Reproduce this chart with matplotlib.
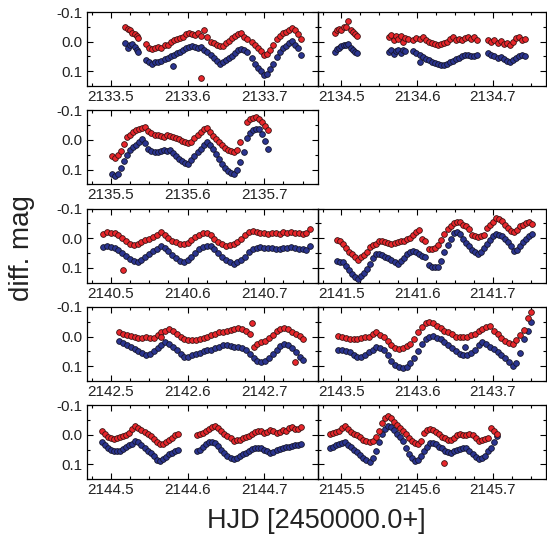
import numpy as np
import matplotlib.pyplot as plt
from matplotlib.ticker import FixedLocator, MultipleLocator, FuncFormatter

plt.rcParams['font.family'] = ['Liberation Sans', 'DejaVu Sans']
plt.rcParams['axes.unicode_minus'] = False

nan = np.nan

# nights (HJD - 2450000), times are the fraction of the day
days = [2133, 2134, 2135, 2140, 2141, 2142, 2143, 2144, 2145]

# --- 2133 ---
t_2133 = [.519, .522, .525, .528, .531, .534, .536,
          .546, .550, .554, .558, .562, .566, .570, .574, .578, .582, .586, .590, .594, .598,
          .602, .606, .610, .614, .618, .622, .626, .630, .634, .638, .642, .646, .650, .654,
          .658, .662, .666, .670, .674, .678,
          .684, .688, .692, .696, .700, .704, .708, .712, .716, .720, .724, .728, .732, .736,
          .740, .744, .748,
          .617, .581]
red_2133 = [-0.050, -0.042, -0.038, -0.030, -0.024, -0.020, -0.012,
            0.008, 0.020, 0.026, 0.022, 0.018, 0.020, 0.012, 0.010, 0.002, -0.004,
            -0.008, -0.012, -0.016, -0.026, -0.030, -0.024, -0.022, -0.028, -0.020, -0.040,
            -0.014, 0.000, 0.006, 0.012, 0.016, 0.014, 0.006, -0.002, -0.012, -0.020,
            -0.026, -0.028, -0.016, -0.010,
            0.000, 0.011, 0.022, 0.032, 0.044, 0.042, 0.030, 0.012, -0.008, -0.020, -0.028,
            -0.034, -0.040, -0.045, -0.040, -0.024, -0.008,
            0.123, nan]
blue_2133 = [0.006, 0.022, 0.012, 0.008, 0.018, 0.028, 0.036,
             0.062, 0.070, 0.074, 0.070, 0.068, 0.066, 0.060, 0.056, 0.050, 0.044,
             0.040, 0.034, 0.030, 0.022, 0.018, 0.016, 0.018, 0.020, 0.018, 0.028,
             0.036, 0.046, 0.056, 0.066, 0.074, 0.070, 0.062, 0.054, 0.048, 0.040,
             0.030, 0.025, 0.030, 0.036,
             0.057, 0.074, 0.090, 0.100, 0.112, 0.110, 0.092, 0.075, 0.052, 0.035, 0.022,
             0.016, 0.006, -0.002, 0.010, 0.022, 0.045,
             nan, 0.083]

# --- 2134 ---
t_2134 = [.491, .494, .497, .500, .503, .506, .509, .512, .515, .518, .521,
          .563, .566, .569, .572, .575, .578, .581, .584, .588,
          .595, .599, .603, .607, .611, .615, .619, .623, .627, .631, .635, .639, .643, .647,
          .651, .655, .659, .663, .667, .671, .675, .679,
          .694, .698, .702, .706, .710, .714, .718, .722, .726, .730, .734, .738, .742,
          .603]
red_2134 = [-0.030, -0.040, -0.044, -0.038, -0.048, -0.050, -0.068, -0.040, -0.034, -0.026, -0.020,
            -0.015, -0.022, -0.005, -0.018, -0.010, -0.020, 0.002, -0.012, -0.008,
            -0.006, -0.012, -0.008, -0.014, -0.004, 0.002, 0.006, 0.008, 0.010, 0.008,
            0.006, 0.000, -0.008, -0.016, -0.006, -0.010, -0.004, -0.012, -0.016, -0.008,
            -0.014, -0.006,
            -0.006, 0.002, -0.004, 0.006, -0.002, 0.008, 0.004, 0.010, 0.000, -0.012, -0.016,
            -0.004, -0.010,
            nan]
blue_2134 = [0.034, 0.026, 0.020, 0.015, 0.012, 0.010, 0.008, 0.020, 0.028, 0.034, 0.040,
             0.035, 0.030, 0.042, 0.032, 0.028, 0.038, 0.030, 0.032, nan,
             0.032, 0.040, 0.046, 0.052, 0.058, 0.062, 0.068, 0.072, 0.076, 0.078,
             0.080, 0.076, 0.070, 0.064, 0.058, 0.054, 0.050, 0.046, 0.044, 0.048,
             0.050, 0.046,
             0.040, 0.044, 0.048, 0.054, 0.052, 0.058, 0.064, 0.070, 0.062, 0.054, 0.050,
             0.046, 0.050,
             0.068]

# --- 2135 ---
t_2135 = [.501, .505, .509, .513, .517, .521, .525, .529, .533, .537,
          .541, .545, .549, .553, .557, .561, .565, .569, .573, .577,
          .581, .585, .589, .593, .597, .601, .605, .609, .613, .617,
          .621, .625, .629, .633, .637, .641, .645, .649, .653, .657,
          .661, .665, .669, .673, .677, .681, .685, .689, .693, .697,
          .701, .705]
red_2135 = [0.056, 0.062, 0.050, 0.036, 0.014, -0.010, -0.018, -0.026, -0.032, -0.036,
            -0.040, -0.044, -0.030, -0.022, -0.018, -0.016, -0.012, -0.010, -0.016, -0.014,
            -0.010, -0.008, -0.002, 0.004, 0.008, 0.010, 0.006, -0.006, -0.018, -0.028,
            -0.036, -0.040, -0.028, -0.014, -0.004, 0.008, 0.018, 0.028, 0.034, 0.038,
            0.040, 0.034, 0.006, nan, -0.060, -0.070, -0.074, -0.076, -0.072, -0.060,
            -0.046, -0.034]
blue_2135 = [0.116, 0.122, 0.114, 0.095, 0.070, 0.050, 0.034, 0.024, 0.018, 0.006,
             -0.004, 0.010, 0.030, 0.036, 0.040, 0.040, 0.036, 0.034, 0.036, 0.034,
             0.044, 0.054, 0.064, 0.072, 0.078, 0.080, 0.068, 0.056, 0.042, 0.030,
             0.016, 0.006, 0.018, 0.032, 0.048, 0.064, 0.080, 0.096, 0.106, 0.112,
             0.114, 0.102, 0.074, 0.040, -0.008, -0.022, -0.034, -0.038, -0.036, -0.020,
             0.004, 0.030]

# --- 2140 ---
t_2140 = [.490, .495, .500, .505, .510, .515, .520, .525, .530, .535,
          .540, .545, .550, .555, .560, .565, .570, .575, .580, .585,
          .590, .595, .600, .605, .610, .615, .620, .625, .630, .635,
          .640, .645, .650, .655, .660, .665, .670, .675, .680, .685,
          .690, .695, .700, .705, .710, .715, .720, .725, .730, .735,
          .740, .745, .750, .755, .760,
          .516]
red_2140 = [-0.014, -0.020, -0.018, -0.016, -0.010, 0.000, 0.010, 0.018, 0.022, 0.020,
            0.012, 0.006, 0.002, -0.004, -0.010, -0.020, -0.012, 0.000, 0.008, 0.014,
            0.020, 0.018, 0.016, 0.006, -0.004, -0.010, -0.016, -0.018, -0.010, 0.002,
            0.014, 0.020, 0.026, 0.022, 0.018, 0.012, 0.004, -0.010, -0.020, -0.026,
            -0.022, -0.018, -0.016, -0.014, -0.018, -0.016, -0.014, -0.020, -0.018, -0.022,
            -0.016, -0.018, -0.014, -0.016, -0.030,
            0.107]
blue_2140 = [0.030, 0.026, 0.030, 0.034, 0.040, 0.050, 0.060, 0.070, 0.078, 0.082,
             0.074, 0.064, 0.054, 0.044, 0.036, 0.028, 0.032, 0.044, 0.056, 0.066,
             0.076, 0.082, 0.074, 0.064, 0.050, 0.038, 0.030, 0.028, 0.028, 0.038,
             0.050, 0.062, 0.074, 0.082, 0.088, 0.080, 0.074, 0.062, 0.046, 0.038,
             0.032, 0.030, 0.034, 0.032, 0.034, 0.036, 0.036, 0.032, 0.034, 0.030,
             0.032, 0.036, 0.038, 0.040, 0.026,
             nan]

# --- 2141 ---
t_2141 = [.494, .498, .502, .506, .510, .514, .518, .522, .526, .530,
          .534, .538, .542, .546, .550, .554, .558, .562, .566, .570,
          .574, .578, .582, .586, .590, .594, .598, .602, .606, .610,
          .616, .620, .624, .628, .632, .636, .640, .644, .648, .652,
          .656, .660, .664, .668, .672, .676, .680, .684, .688, .692,
          .696, .700, .704, .708, .712, .716, .720, .724, .728, .732,
          .736, .740, .744, .748, .752]
red_2141 = [0.006, 0.010, 0.018, 0.034, 0.048, 0.052, 0.062, 0.074, 0.064, 0.056,
            0.046, 0.030, 0.024, 0.018, 0.010, 0.008, 0.012, 0.016, 0.020, 0.016,
            0.012, 0.010, 0.008, 0.004, -0.002, -0.010, -0.020, -0.028, 0.004, 0.010,
            0.036, 0.038, 0.034, 0.022, 0.006, -0.014, -0.030, -0.040, -0.052, -0.056,
            -0.054, -0.046, -0.040, -0.030, -0.012, -0.006, -0.004, -0.008, -0.010, -0.034,
            -0.046, -0.056, -0.068, -0.064, -0.058, -0.046, -0.036, -0.026, -0.020, -0.028,
            -0.040, -0.046, -0.050, -0.054, -0.048]
blue_2141 = [0.078, 0.080, 0.082, 0.094, 0.108, 0.122, 0.132, 0.138, 0.128, 0.118,
             0.104, 0.086, 0.066, 0.054, 0.052, 0.056, 0.062, 0.068, 0.074, 0.080,
             0.086, 0.078, 0.066, 0.054, 0.046, 0.044, 0.048, 0.054, 0.060, 0.064,
             0.092, 0.096, 0.098, 0.096, 0.078, 0.046, 0.024, 0.004, -0.016, -0.020,
             -0.014, 0.002, 0.016, 0.028, 0.040, 0.048, 0.052, 0.046, 0.034, 0.020,
             0.006, -0.008, -0.014, -0.012, -0.006, 0.004, 0.014, 0.026, 0.044, 0.040,
             0.026, 0.012, 0.002, -0.008, -0.014]

# --- 2142 ---
t_2142 = [.511, .516, .521, .526, .531, .536, .541, .546, .551, .556,
          .561, .566, .571, .576, .581, .586, .591, .596, .601, .606,
          .611, .616, .621, .626, .631, .636, .641, .646, .651, .656,
          .661, .666, .671, .676, .681, .686, .691, .696, .701, .706,
          .711, .716, .721, .726, .731, .736, .741, .746, .751,
          .684, .740, .566]
red_2142 = [-0.015, -0.010, -0.006, -0.002, 0.002, 0.006, 0.004, 0.002, 0.006, 0.006,
            -0.004, -0.014, -0.020, -0.026, -0.018, -0.010, 0.002, 0.010, 0.013, 0.012,
            0.012, 0.008, 0.004, 0.002, -0.006, -0.010, -0.014, -0.016, -0.020, -0.022,
            -0.026, -0.030, -0.026, -0.020, -0.008, 0.036, 0.026, 0.020, 0.014, 0.004,
            -0.006, -0.018, -0.024, -0.028, -0.024, -0.016, -0.010, -0.002, 0.008,
            -0.045, 0.087, 0.002]
blue_2142 = [0.016, 0.022, 0.030, 0.036, 0.042, 0.048, 0.056, 0.062, 0.060, 0.050,
             0.040, 0.028, 0.020, 0.024, 0.034, 0.046, 0.058, 0.068, 0.068, 0.064,
             0.058, 0.056, 0.050, 0.046, 0.044, 0.040, 0.034, 0.030, 0.030, 0.032,
             0.034, 0.036, 0.038, 0.046, 0.058, 0.072, 0.082, 0.086, 0.082, 0.074,
             0.060, 0.044, 0.032, 0.026, 0.030, 0.040, 0.054, 0.068, 0.078,
             nan, nan, nan]

# --- 2143 ---
t_2143 = [.496, .501, .506, .511, .516, .521, .526, .531, .536, .541,
          .546, .551, .556, .561, .566, .571, .576, .581, .586, .591,
          .596, .601, .606, .611, .616, .621, .626, .631, .636, .641,
          .646, .651, .656, .661, .666, .671, .676, .681, .686, .691,
          .696, .701, .706, .711, .716, .721, .726, .731, .736, .741,
          .746, .750,
          .663]
red_2143 = [-0.003, 0.002, 0.006, 0.008, 0.008, 0.010, 0.004, 0.002, 0.000, -0.008,
            -0.014, -0.006, 0.000, 0.014, 0.028, 0.038, 0.042, 0.040, 0.032, 0.024,
            0.010, -0.016, -0.032, -0.044, -0.048, -0.044, -0.036, -0.030, -0.020, -0.014,
            -0.008, 0.000, 0.002, 0.002, 0.000, -0.004, -0.010, -0.018, -0.024, -0.032,
            -0.036, -0.020, -0.008, 0.006, 0.016, 0.022, 0.026, 0.012, -0.006, -0.022,
            -0.062, -0.082,
            nan]
blue_2143 = [0.045, 0.046, 0.048, 0.054, 0.062, 0.068, 0.068, 0.064, 0.054, 0.046,
             0.036, 0.040, 0.046, 0.064, 0.082, 0.096, 0.104, 0.108, 0.102, 0.090,
             0.072, 0.048, 0.024, 0.010, 0.000, -0.002, 0.004, 0.010, 0.018, 0.028,
             0.038, 0.050, 0.058, 0.064, 0.062, 0.056, 0.044, 0.030, 0.020, 0.024,
             0.034, 0.042, 0.052, 0.062, 0.074, 0.086, 0.098, 0.088, 0.056, 0.010,
             -0.020, -0.048,
             0.036]

# --- 2144 ---
t_2144 = [.488, .492, .496, .500, .504, .508, .512, .516, .520, .524,
          .528, .532, .536, .540, .544, .548, .552, .556, .560, .564,
          .568, .572, .576, .580, .584, .588,
          .612, .616, .620, .624, .628, .632, .636, .640, .644, .648,
          .652, .656, .660, .664, .668, .672, .676, .680, .684, .688,
          .692, .696, .700, .704, .708, .712, .716, .720, .724, .728,
          .732, .736, .740, .744, .748]
red_2144 = [-0.012, -0.002, 0.008, 0.012, 0.014, 0.010, 0.006, 0.004, 0.000, -0.006,
            -0.020, -0.030, -0.022, -0.016, -0.008, -0.002, 0.004, 0.014, 0.024, 0.032,
            0.030, 0.026, 0.018, 0.010, 0.002, -0.002,
            0.000, -0.004, -0.006, -0.014, -0.020, -0.026, -0.030, -0.024, -0.014, -0.004,
            0.004, 0.012, 0.020, 0.018, 0.016, 0.012, 0.008, 0.004, -0.002, -0.010,
            -0.014, -0.012, -0.006, -0.010, -0.016, -0.012, -0.006, -0.010, -0.016, -0.014,
            -0.022, -0.026, -0.020, -0.018, -0.026]
blue_2144 = [0.026, 0.034, 0.046, 0.052, 0.056, 0.056, 0.054, 0.048, 0.042, 0.036,
             0.030, 0.022, 0.024, 0.034, 0.046, 0.054, 0.060, 0.072, 0.084, 0.088,
             0.082, 0.074, 0.066, 0.060, 0.054, 0.050,
             0.055, 0.050, 0.040, 0.032, 0.026, 0.023, 0.028, 0.038, 0.052, 0.060,
             0.070, 0.078, 0.083, 0.078, 0.072, 0.066, 0.060, 0.054, 0.048, 0.044,
             0.043, 0.046, 0.050, 0.056, 0.060, 0.058, 0.050, 0.048, 0.044, 0.042,
             0.040, 0.038, 0.036, 0.034, 0.030]

# --- 2145 ---
t_2145 = [.485, .489, .493, .497, .501, .505, .509, .513, .517, .521,
          .525, .529, .533, .537, .541, .545, .549, .553, .557, .561,
          .565, .569, .573, .577, .581, .585, .589, .593, .597, .601,
          .605, .609, .613, .617, .621, .625, .629, .633, .637, .641,
          .645, .649, .653, .657, .661, .665, .669, .673, .677, .681,
          .685, .689, .693, .697, .701, .705,
          .636]
red_2145 = [-0.002, -0.006, -0.010, -0.014, -0.022, -0.030, -0.018, -0.008, -0.002, 0.002,
            0.006, 0.016, 0.022, 0.026, 0.020, 0.008, -0.012, -0.040, -0.058, -0.064,
            -0.058, -0.044, -0.032, -0.022, -0.014, -0.002, 0.010, 0.022, 0.028, 0.032,
            0.022, -0.006, -0.016, -0.020, -0.016, -0.010, -0.002, 0.006, 0.012, 0.018,
            0.016, 0.010, 0.002, -0.002, 0.002, 0.000, -0.002, 0.002, 0.010, 0.020,
            0.016, 0.014, 0.010, -0.024, -0.014, -0.002,
            0.095]
blue_2145 = [0.043, 0.040, 0.036, 0.030, 0.028, 0.026, 0.034, 0.042, 0.050, 0.058,
             0.068, 0.078, 0.086, 0.092, 0.080, 0.056, 0.026, -0.004, -0.018, -0.030,
             -0.026, -0.016, -0.004, 0.008, 0.022, 0.044, 0.066, 0.080, 0.088, 0.086,
             0.072, 0.054, 0.040, 0.028, 0.028, 0.032, 0.040, 0.046, 0.054, 0.058,
             0.060, 0.056, 0.052, 0.048, 0.044, 0.046, 0.054, 0.064, 0.074, 0.082,
             0.078, 0.070, 0.056, 0.044, 0.026, 0.004,
             nan]

times = [t_2133, t_2134, t_2135, t_2140, t_2141, t_2142, t_2143, t_2144, t_2145]
reds = [red_2133, red_2134, red_2135, red_2140, red_2141, red_2142, red_2143, red_2144, red_2145]
blues = [blue_2133, blue_2134, blue_2135, blue_2140, blue_2141, blue_2142, blue_2143, blue_2144, blue_2145]
# (row, column) of each night in the grid
slots = [(0, 0), (0, 1), (1, 0), (2, 0), (2, 1), (3, 0), (3, 1), (4, 0), (4, 1)]

W, H = 547.0, 535.0
fig = plt.figure(figsize=(W / 100, H / 100), dpi=100)

for day, t, r, b, (row, col) in zip(days, times, reds, blues, slots):
    top = 12 + 98.3 * row
    left = 87 if col == 0 else 318
    width = 231 if col == 0 else 228
    ax = fig.add_axes([left / W, 1 - (top + 74) / H, width / W, 74 / H])
    ax.patch.set_alpha(0)
    x = day + np.array(t)
    ax.scatter(x, b, s=17, c='#2b3590', edgecolors='#15152a', linewidths=0.6, zorder=2)
    ax.scatter(x, r, s=17, c='#e8262b', edgecolors='#3a1212', linewidths=0.6, zorder=3)
    ax.set_xlim(day + 0.469, day + 0.770)
    ax.set_ylim(0.15, -0.1)
    ax.xaxis.set_major_locator(FixedLocator([day + 0.5, day + 0.6, day + 0.7]))
    ax.xaxis.set_minor_locator(MultipleLocator(0.025))
    ax.xaxis.set_major_formatter(FuncFormatter(lambda v, p: '%.1f' % v))
    ax.yaxis.set_major_locator(FixedLocator([-0.1, 0.0, 0.1]))
    ax.yaxis.set_minor_locator(MultipleLocator(0.05))
    ax.yaxis.set_major_formatter(FuncFormatter(lambda v, p: '%.1f' % (0.0 if abs(v) < 1e-9 else v)))
    ax.tick_params(which='both', direction='in', top=True, right=True,
                   labelsize=11, labelcolor='#222222', width=0.8, pad=3)
    ax.tick_params(which='major', length=4)
    ax.tick_params(which='minor', length=2.2)
    if col == 1:
        ax.tick_params(labelleft=False)
    for s in ax.spines.values():
        s.set_linewidth(0.9)

fig.text(22 / W, 1 - 248 / H, 'diff. mag', rotation=90, ha='center', va='center',
         fontsize=20, color='#222222')
fig.text(316 / W, 1 - 521 / H, 'HJD [2450000.0+]', ha='center', va='center',
         fontsize=19.5, color='#222222')

fig.savefig('out.png', dpi=100)
